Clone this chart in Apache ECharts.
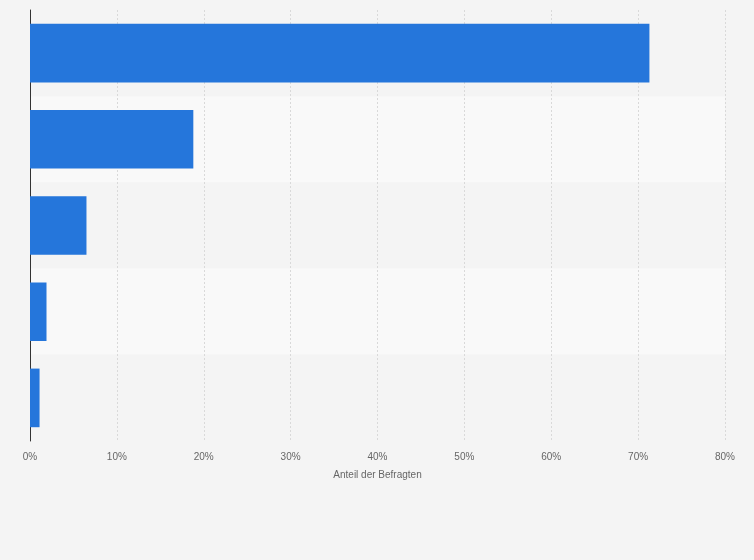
<!DOCTYPE html>
<html><head><meta charset="utf-8">
<script src="https://cdn.jsdelivr.net/npm/echarts@6/dist/echarts.min.js"></script>
<style>html,body{margin:0;padding:0;background:#f4f4f4}#c{width:754px;height:560px}</style>
</head><body><div id="c"></div>
<script>
const categories = ['A', 'B', 'C', 'D', 'E'];
const values = [71.3, 18.8, 6.5, 1.9, 1.1];
const xTicks = [0, 10, 20, 30, 40, 50, 60, 70, 80];
const chart = echarts.init(document.getElementById('c'));
chart.setOption({
  backgroundColor: '#f4f4f4',
  animation: false,
  grid: { left: 30, right: 29, top: 10, bottom: 119 },
  xAxis: {
    type: 'value', min: 0, max: 80, interval: 10,
    name: 'Anteil der Befragten', nameLocation: 'middle', nameGap: 29,
    nameTextStyle: { color: '#666', fontSize: 10, fontFamily: 'Arial, Liberation Sans' },
    axisLabel: { formatter: v => v + '%', color: '#666', fontSize: 10, fontFamily: 'Arial, Liberation Sans', margin: 11 },
    splitLine: { lineStyle: { color: '#d9d9d9', type: [2, 2] } },
    axisLine: { show: false }, axisTick: { show: false }
  },
  yAxis: {
    type: 'category', data: categories, inverse: true,
    axisLabel: { show: false }, axisTick: { show: false },
    axisLine: { lineStyle: { color: '#333' } },
    splitArea: { show: true, areaStyle: { color: ['#f4f4f4', '#f9f9f9'] } }
  },
  series: [{
    type: 'bar', data: values, barWidth: '68%',
    itemStyle: { color: '#2576db' }
  }]
});
</script></body></html>
